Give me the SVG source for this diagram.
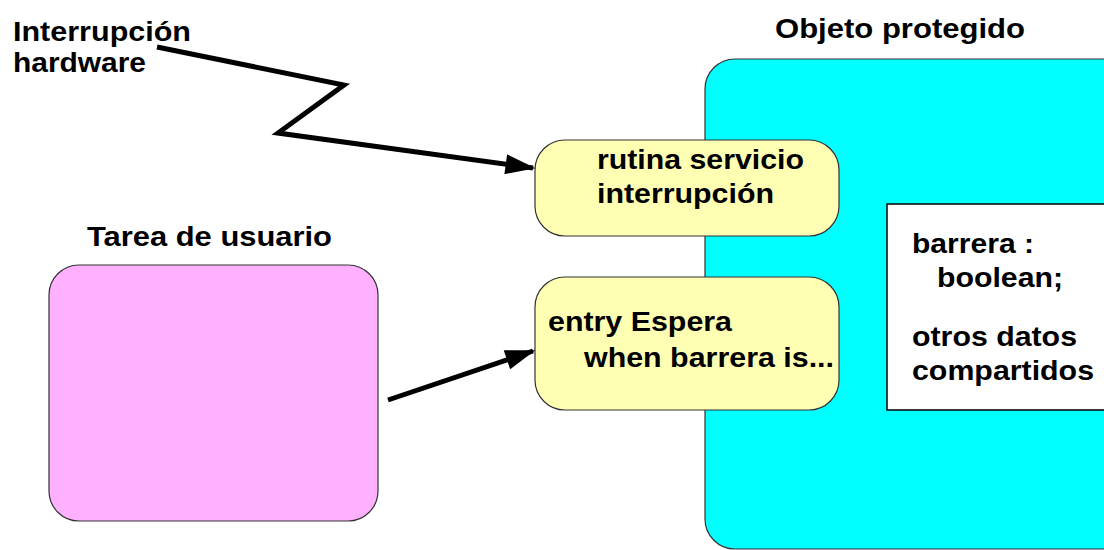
<svg xmlns="http://www.w3.org/2000/svg" width="1104" height="550" viewBox="0 0 1104 550">
  <style>
    .lbl { font-family: "Liberation Sans", Arial, Helvetica, sans-serif; font-weight: bold; font-size: 28px; fill: #000; }
    .box { stroke: #333; stroke-width: 1.2; }
    .conn { fill: none; stroke: #000; stroke-width: 5; stroke-linejoin: miter; }
  </style>
  <defs>
    <marker id="arrow" viewBox="0 0 12 8" refX="11" refY="4" markerWidth="6.4" markerHeight="4" orient="auto" markerUnits="strokeWidth">
      <path d="M0,0 L12,4 L0,8 z" fill="#000"/>
    </marker>
  </defs>

  <rect width="1104" height="550" fill="#fff"/>

  <!-- protected object -->
  <g id="objeto-protegido">
    <rect class="box" x="705" y="59" width="440" height="490" rx="30" fill="#00ffff"/>
    <text class="lbl" x="775" y="38" textLength="250" lengthAdjust="spacingAndGlyphs">Objeto protegido</text>
  </g>

  <!-- shared data -->
  <g id="datos">
    <rect x="887" y="204" width="230" height="206" fill="#fff" stroke="#000" stroke-width="1.5"/>
    <text class="lbl" x="912" y="253" textLength="122" lengthAdjust="spacingAndGlyphs">barrera :</text>
    <text class="lbl" x="937" y="287" textLength="126" lengthAdjust="spacingAndGlyphs">boolean;</text>
    <text class="lbl" x="912" y="346" textLength="165" lengthAdjust="spacingAndGlyphs">otros datos</text>
    <text class="lbl" x="912" y="380" textLength="182" lengthAdjust="spacingAndGlyphs">compartidos</text>
  </g>

  <!-- interrupt service routine -->
  <g id="rutina">
    <rect class="box" x="535" y="140" width="304" height="96" rx="30" fill="#ffffb4"/>
    <text class="lbl" x="597" y="169" textLength="207" lengthAdjust="spacingAndGlyphs">rutina servicio</text>
    <text class="lbl" x="597" y="203" textLength="177" lengthAdjust="spacingAndGlyphs">interrupción</text>
  </g>

  <!-- entry -->
  <g id="entry">
    <rect class="box" x="535" y="277" width="304" height="133" rx="30" fill="#ffffb4"/>
    <text class="lbl" x="548" y="331" textLength="184" lengthAdjust="spacingAndGlyphs">entry Espera</text>
    <text class="lbl" x="584" y="367" textLength="250" lengthAdjust="spacingAndGlyphs">when barrera is...</text>
  </g>

  <!-- user task -->
  <g id="tarea">
    <rect class="box" x="49" y="265" width="329" height="256" rx="30" fill="#ffb0ff"/>
    <text class="lbl" x="87" y="246" textLength="245" lengthAdjust="spacingAndGlyphs">Tarea de usuario</text>
  </g>

  <!-- hardware interrupt source -->
  <g id="interrupcion">
    <text class="lbl" x="13" y="41" textLength="178" lengthAdjust="spacingAndGlyphs">Interrupción</text>
    <text class="lbl" x="13" y="72" textLength="133" lengthAdjust="spacingAndGlyphs">hardware</text>
  </g>

  <!-- connectors -->
  <g id="connectors">
    <polyline class="conn" points="157,47 344,85 278,133 533,168" marker-end="url(#arrow)"/>
    <line class="conn" x1="388" y1="400" x2="533" y2="351" marker-end="url(#arrow)"/>
  </g>
</svg>
